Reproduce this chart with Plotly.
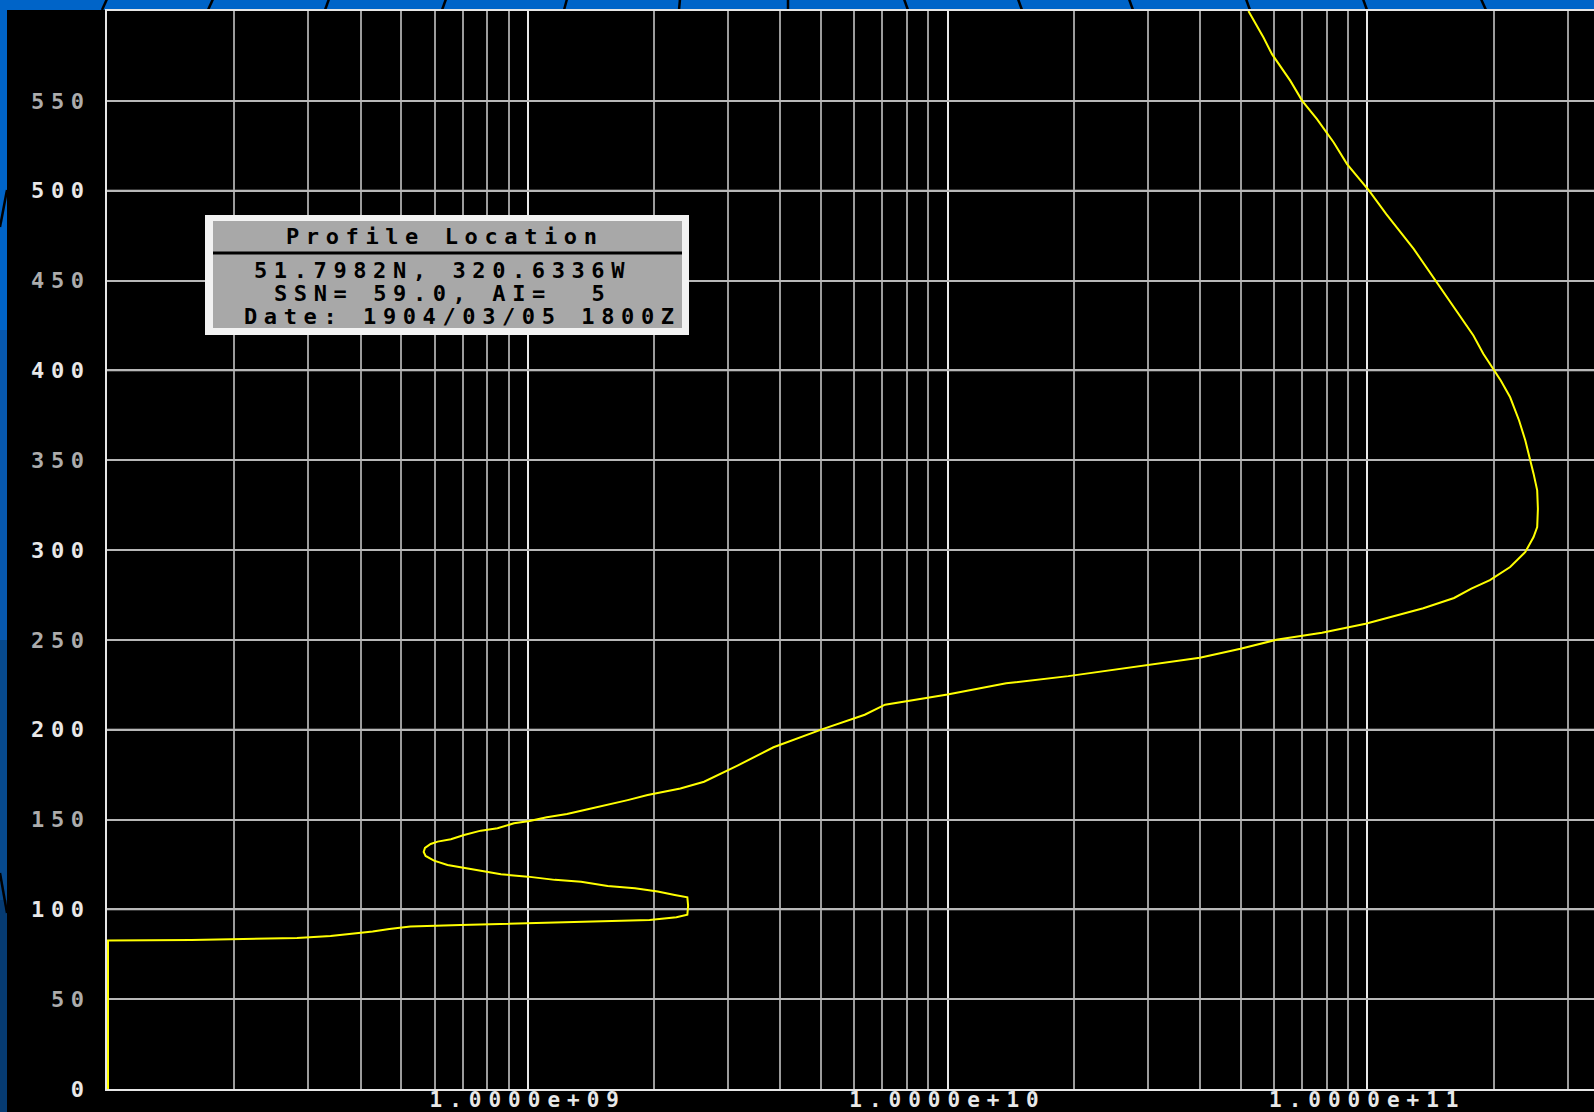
import plotly.graph_objects as go

# Electron density profile: altitude (km) against density (el/m^3)
altitude_km = [
    0.0, 82.6, 83.0, 84.0, 85.2, 86.3, 87.6, 89.0, 90.4, 91.3,
    92.6, 94.1, 95.6, 97.0, 102.0, 106.7, 108.0, 109.9,
    111.7, 113.0, 115.4, 116.4, 118.2, 119.5, 121.5, 122.9, 124.7, 127.1,
    129.7, 132.0, 134.2, 136.4, 137.7, 139.0, 141.4, 143.8, 145.1, 147.9,
    149.2, 151.2, 153.1, 155.7, 158.1, 160.8, 163.6, 165.5, 167.3, 171.0,
    180.0, 190.2, 200.0, 208.3, 213.9, 219.6, 225.8, 229.8, 236.0, 240.0,
    245.0, 250.0, 254.0, 259.0, 267.6, 273.3, 278.5, 283.2, 290.5, 298.9,
    307.2, 312.8, 323.0, 333.2, 342.5, 350.8, 361.0, 372.1, 385.0, 394.3,
    400.3, 409.2, 419.4, 447.4, 467.6, 487.0, 500.0, 514.8, 526.8, 539.8,
    550.0, 561.1, 576.0, 585.2, 600.0,
]
density = [
    1.0e8, 1.0e8, 1.58e8, 2.82e8, 3.39e8, 3.80e8, 4.27e8, 4.68e8, 5.25e8, 6.92e8,
    1.20e9, 1.95e9, 2.26e9, 2.40e9, 2.41e9, 2.40e9, 2.24e9, 2.04e9,
    1.80e9, 1.55e9, 1.34e9, 1.16e9, 1.00e9, 8.63e8, 7.73e8, 7.05e8, 6.44e8, 5.98e8,
    5.71e8, 5.65e8, 5.69e8, 5.87e8, 6.10e8, 6.56e8, 7.05e8, 7.73e8, 8.47e8, 9.27e8,
    1.01e9, 1.11e9, 1.24e9, 1.39e9, 1.55e9, 1.73e9, 1.93e9, 2.11e9, 2.31e9, 2.63e9,
    3.16e9, 3.85e9, 5.0e9, 6.35e9, 7.10e9, 1.0e10, 1.38e10, 1.94e10, 3.02e10, 3.99e10,
    4.99e10, 6.07e10, 7.80e10, 9.91e10, 1.36e11, 1.61e11, 1.77e11, 1.96e11, 2.19e11, 2.38e11,
    2.49e11, 2.54e11, 2.55e11, 2.54e11, 2.49e11, 2.44e11, 2.38e11, 2.30e11, 2.19e11, 2.08e11,
    2.00e11, 1.89e11, 1.79e11, 1.48e11, 1.29e11, 1.11e11, 1.01e11, 8.95e10, 8.32e10, 7.59e10,
    7.0e10, 6.56e10, 5.93e10, 5.66e10, 5.21e10,
]

x_major_ticks = [1e9, 1e10, 1e11]
x_major_labels = ["1.0000e+09", "1.0000e+10", "1.0000e+11"]
x_minor_ticks = [m * 10 ** e for e in (8, 9, 10) for m in range(2, 10)] + [2e11, 3e11]
y_ticks = [0, 50, 100, 150, 200, 250, 300, 350, 400, 450, 500, 550]
y_major_ticks = [0, 100, 200, 300, 400, 500]

info_title = "Profile Location"
info_lines = ["51.7982N, 320.6336W", "SSN= 59.0, AI=\u00a0 5", "Date: 1904/03/05 1800Z"]

W, H = 1594, 1112
L, T, B = 107, 11, 23
PW, PH = W - L, H - T - B
X_RANGE = [7.9976, 7.9976 + PW / 419.75]
Y_RANGE = [0, 600]

FONT = "DejaVu Sans Mono"
BLUE = "#0064c8"
LABEL_MAJOR = "#e8e8e8"
LABEL_MINOR = "#acacac"


def px(x):
    return (x - L) / PW


def py(y):
    return (H - B - y) / PH


shapes = []
# black page area over the blue slide background
shapes.append(dict(type="rect", xref="paper", yref="paper", layer="below",
                   x0=px(7), x1=px(W + 5), y0=py(H + 5), y1=py(10),
                   fillcolor="#000000", line=dict(width=0)))
# darker blue bands down the left strip
for y0, y1, col in [(330, 640, "#0758ae"), (640, 900, "#074a8e"), (900, H + 5, "#063b72")]:
    shapes.append(dict(type="rect", xref="paper", yref="paper", layer="below",
                       x0=px(-5), x1=px(7), y0=py(y1), y1=py(y0),
                       fillcolor=col, line=dict(width=0)))
# thin dark strokes across the top blue band
band_strokes = [(102, 5), (208, 5), (325, 4), (442, 4), (564, 3), (679, 1), (788, 0),
                (908, -4), (1022, -4), (1133, -4), (1250, -4), (1367, -4), (1486, -5)]
for xb, off in band_strokes:
    shapes.append(dict(type="line", xref="paper", yref="paper", layer="below",
                       x0=px(xb), x1=px(xb + off), y0=py(10), y1=py(-1),
                       line=dict(color="#000000", width=2.5)))
for (xa, ya), (xb, yb) in [((0, 227), (7, 190)), ((0, 873), (7, 913))]:
    shapes.append(dict(type="line", xref="paper", yref="paper", layer="below",
                       x0=px(xa), x1=px(xb), y0=py(ya), y1=py(yb),
                       line=dict(color="#000000", width=2.5)))

# brighter gridlines at every hundred km
for v in y_major_ticks[1:]:
    shapes.append(dict(type="line", xref="paper", yref="y", layer="between",
                       x0=0, x1=1, y0=v, y1=v, line=dict(color="#dcdcdc", width=2)))

# info box: white frame, grey panel, rule under the heading
shapes.append(dict(type="rect", xref="paper", yref="paper", layer="above",
                   x0=px(205), x1=px(689), y0=py(335), y1=py(215),
                   fillcolor="#f2f2f2", line=dict(width=0)))
shapes.append(dict(type="rect", xref="paper", yref="paper", layer="above",
                   x0=px(213), x1=px(682), y0=py(328), y1=py(221),
                   fillcolor="#a8a8a8", line=dict(width=0)))
shapes.append(dict(type="line", xref="paper", yref="paper", layer="above",
                   x0=px(213), x1=px(682), y0=py(253), y1=py(253),
                   line=dict(color="#000000", width=3)))

box_font = dict(family=FONT, size=22, color="#000000", weight="bold")
annotations = [dict(text=info_title, xref="paper", yref="paper", x=px(285), y=py(236),
                    xanchor="left", yanchor="middle", align="left", showarrow=False,
                    font=box_font, borderpad=0)]
for text, xl, yc in zip(info_lines, [253, 273, 243], [270.5, 294, 316]):
    annotations.append(dict(text=text, xref="paper", yref="paper", x=px(xl), y=py(yc),
                            xanchor="left", yanchor="middle", align="left", showarrow=False,
                            font=box_font, borderpad=0))

fig = go.Figure()
fig.add_trace(go.Scatter(x=density, y=altitude_km, mode="lines",
                         line=dict(color="#ffff00", width=2), hoverinfo="skip"))

y_labels = [
    f'<span style="color:{LABEL_MAJOR if v in y_major_ticks else LABEL_MINOR}">{v}</span>'
    for v in y_ticks
]

fig.update_layout(
    width=W, height=H,
    margin=dict(l=L, r=0, t=T, b=B, pad=0, autoexpand=False),
    paper_bgcolor=BLUE, plot_bgcolor="#000000",
    showlegend=False,
    xaxis=dict(type="log", range=X_RANGE, automargin=False,
               tickvals=x_major_ticks, ticktext=x_major_labels,
               tickfont=dict(family=FONT, size=21, color=LABEL_MAJOR, weight="bold"),
               showgrid=True, gridcolor="#e8e8e8", gridwidth=2,
               minor=dict(tickvals=x_minor_ticks, showgrid=True, gridcolor="#9c9c9c",
                          gridwidth=2, ticks=""),
               zeroline=False, showline=True, linecolor="#e6e6e6", linewidth=2,
               mirror=True, ticks="", ticklabelstandoff=-9),
    yaxis=dict(range=Y_RANGE, tickvals=y_ticks, ticktext=y_labels, automargin=False,
               tickfont=dict(family=FONT, size=22, color=LABEL_MAJOR, weight="bold"),
               showgrid=True, gridcolor="#b8b8b8", gridwidth=2,
               zeroline=False, showline=True, linecolor="#e6e6e6", linewidth=2, ticks="",
               ticklabelstandoff=10),
    shapes=shapes,
    annotations=annotations,
)

# widen the glyph spacing of the monospace labels
spacing_js = """
var gd = document.getElementById('{plot_id}');
gd.querySelectorAll('.xtick text').forEach(function (t) { t.style.letterSpacing = '7px'; });
gd.querySelectorAll('.ytick text, .annotation-text')
  .forEach(function (t) { t.style.letterSpacing = '6.6px'; });
"""

fig.write_html("out.html", config={"displayModeBar": False}, post_script=spacing_js)
